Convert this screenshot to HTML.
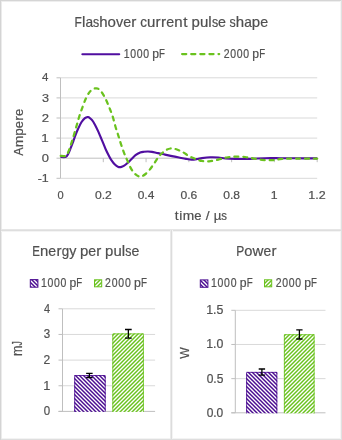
<!DOCTYPE html><html><head><meta charset="utf-8"><style>html,body{margin:0;padding:0;background:#fff;width:342px;height:440px;overflow:hidden}svg{display:block;will-change:transform}text{font-family:"Liberation Sans",sans-serif;font-kerning:none;stroke:#505050;stroke-width:0.2px}</style></head><body>
<svg width="342" height="440" viewBox="0 0 342 440">
<defs>
<pattern id="pp" width="4" height="4" patternUnits="userSpaceOnUse"><rect width="4" height="4" fill="#fff"/><path d="M-1,-1 L5,5 M-1,3 L1,5 M3,-1 L5,1" stroke="#4A0C90" stroke-width="1.45"/></pattern>
<pattern id="pg" width="4" height="4" patternUnits="userSpaceOnUse"><rect width="4" height="4" fill="#fff"/><path d="M-1,5 L5,-1 M-1,1 L1,-1 M3,5 L5,3" stroke="#6AC21E" stroke-width="1.45"/></pattern>
</defs>
<rect width="342" height="440" fill="#fff"/>
<rect x="0" y="1" width="342" height="1" fill="#EEEEEE"/>
<rect x="0" y="438" width="342" height="1" fill="#F3F3F3"/>
<rect x="1" y="0" width="1" height="440" fill="#EBEBEB"/>
<rect x="340" y="0" width="1" height="440" fill="#F5F5F5"/>
<rect x="0" y="231" width="342" height="1" fill="#F4F4F4"/>
<rect x="0" y="229" width="342" height="1" fill="#E6E6E6"/>
<rect x="0" y="230" width="342" height="1" fill="#DEDEDE"/>
<rect x="170" y="230" width="1" height="210" fill="#EAEAEA"/>
<rect x="172" y="230" width="1" height="210" fill="#F4F4F4"/>
<rect x="171" y="230" width="1" height="210" fill="#DCDCDC"/>
<rect x="0" y="0" width="342" height="1" fill="#D5D5D5"/>
<rect x="0" y="439" width="342" height="1" fill="#DEDEDE"/>
<rect x="0" y="0" width="1" height="440" fill="#D4D4D4"/>
<rect x="341" y="0" width="1" height="440" fill="#E0E0E0"/>
<line x1="60.5" y1="77.79999999999998" x2="317.2" y2="77.79999999999998" stroke="#D9D9D9" stroke-width="1"/>
<line x1="60.5" y1="97.89999999999998" x2="317.2" y2="97.89999999999998" stroke="#D9D9D9" stroke-width="1"/>
<line x1="60.5" y1="117.99999999999999" x2="317.2" y2="117.99999999999999" stroke="#D9D9D9" stroke-width="1"/>
<line x1="60.5" y1="138.1" x2="317.2" y2="138.1" stroke="#D9D9D9" stroke-width="1"/>
<line x1="60.5" y1="178.29999999999998" x2="317.2" y2="178.29999999999998" stroke="#D9D9D9" stroke-width="1"/>
<line x1="60.5" y1="158.2" x2="317.2" y2="158.2" stroke="#BFBFBF" stroke-width="1"/>
<line x1="60.5" y1="77.8" x2="60.5" y2="178.3" stroke="#BFBFBF" stroke-width="1"/>
<line x1="56.5" y1="77.79999999999998" x2="60.5" y2="77.79999999999998" stroke="#BFBFBF" stroke-width="1"/>
<line x1="56.5" y1="97.89999999999998" x2="60.5" y2="97.89999999999998" stroke="#BFBFBF" stroke-width="1"/>
<line x1="56.5" y1="117.99999999999999" x2="60.5" y2="117.99999999999999" stroke="#BFBFBF" stroke-width="1"/>
<line x1="56.5" y1="138.1" x2="60.5" y2="138.1" stroke="#BFBFBF" stroke-width="1"/>
<line x1="56.5" y1="158.2" x2="60.5" y2="158.2" stroke="#BFBFBF" stroke-width="1"/>
<line x1="56.5" y1="178.29999999999998" x2="60.5" y2="178.29999999999998" stroke="#BFBFBF" stroke-width="1"/>
<line x1="103.28333333333333" y1="158.2" x2="103.28333333333333" y2="162.2" stroke="#BFBFBF" stroke-width="1"/>
<line x1="146.06666666666666" y1="158.2" x2="146.06666666666666" y2="162.2" stroke="#BFBFBF" stroke-width="1"/>
<line x1="188.85" y1="158.2" x2="188.85" y2="162.2" stroke="#BFBFBF" stroke-width="1"/>
<line x1="231.63333333333333" y1="158.2" x2="231.63333333333333" y2="162.2" stroke="#BFBFBF" stroke-width="1"/>
<line x1="274.41666666666663" y1="158.2" x2="274.41666666666663" y2="162.2" stroke="#BFBFBF" stroke-width="1"/>
<line x1="317.2" y1="158.2" x2="317.2" y2="162.2" stroke="#BFBFBF" stroke-width="1"/>
<path d="M60.50,157.00 C61.33,157.00 64.42,157.20 65.50,157.00 C66.58,156.80 66.50,156.42 67.00,155.80 C67.50,155.18 67.85,154.70 68.50,153.30 C69.15,151.90 70.12,149.35 70.90,147.40 C71.68,145.45 72.43,143.65 73.20,141.60 C73.97,139.55 74.72,137.15 75.50,135.10 C76.28,133.05 76.92,131.43 77.90,129.30 C78.88,127.17 80.23,124.15 81.40,122.30 C82.57,120.45 83.83,119.08 84.90,118.20 C85.97,117.32 87.12,117.13 87.80,117.00 C88.48,116.87 88.28,116.88 89.00,117.40 C89.72,117.92 91.07,118.80 92.10,120.10 C93.13,121.40 94.18,123.32 95.20,125.20 C96.22,127.08 97.27,129.35 98.20,131.40 C99.13,133.45 99.93,135.45 100.80,137.50 C101.67,139.55 102.55,141.65 103.40,143.70 C104.25,145.75 104.97,147.75 105.90,149.80 C106.83,151.85 108.12,154.33 109.00,156.00 C109.88,157.67 110.22,158.37 111.20,159.80 C112.18,161.23 113.70,163.42 114.90,164.60 C116.10,165.78 117.43,166.48 118.40,166.90 C119.37,167.32 119.73,167.30 120.70,167.10 C121.67,166.90 123.03,166.42 124.20,165.70 C125.37,164.98 126.52,163.87 127.70,162.80 C128.88,161.73 130.00,160.57 131.30,159.30 C132.60,158.03 134.02,156.32 135.50,155.20 C136.98,154.08 138.78,153.17 140.20,152.60 C141.62,152.03 142.70,151.98 144.00,151.80 C145.30,151.62 146.67,151.48 148.00,151.50 C149.33,151.52 150.67,151.70 152.00,151.90 C153.33,152.10 154.67,152.42 156.00,152.70 C157.33,152.98 158.50,153.28 160.00,153.60 C161.50,153.92 163.00,154.18 165.00,154.60 C167.00,155.02 169.67,155.62 172.00,156.10 C174.33,156.58 176.67,157.03 179.00,157.50 C181.33,157.97 183.90,158.55 186.00,158.90 C188.10,159.25 189.70,159.58 191.60,159.60 C193.50,159.62 195.67,159.25 197.40,159.00 C199.13,158.75 199.87,158.38 202.00,158.10 C204.13,157.82 207.47,157.40 210.20,157.30 C212.93,157.20 215.87,157.30 218.40,157.50 C220.93,157.70 222.63,158.27 225.40,158.50 C228.17,158.73 230.90,158.83 235.00,158.90 C239.10,158.97 245.00,159.02 250.00,158.90 C255.00,158.78 260.00,158.32 265.00,158.20 C270.00,158.08 275.00,158.18 280.00,158.20 C285.00,158.22 288.80,158.28 295.00,158.30 C301.20,158.32 313.50,158.30 317.20,158.30" fill="none" stroke="#500EA0" stroke-width="2.15" stroke-linejoin="round"/>
<path d="M60.50,155.80 C61.42,155.80 64.57,156.80 66.00,155.80 C67.43,154.80 68.00,152.57 69.10,149.80 C70.20,147.03 71.43,142.92 72.60,139.20 C73.77,135.48 75.02,131.20 76.10,127.50 C77.18,123.80 78.00,120.48 79.10,117.00 C80.20,113.52 81.52,109.80 82.70,106.60 C83.88,103.40 85.03,100.25 86.20,97.80 C87.37,95.35 88.53,93.37 89.70,91.90 C90.87,90.43 92.13,89.58 93.20,89.00 C94.27,88.42 95.12,88.35 96.10,88.40 C97.08,88.45 97.93,88.32 99.10,89.30 C100.27,90.28 101.83,92.30 103.10,94.30 C104.37,96.30 105.62,98.97 106.70,101.30 C107.78,103.63 108.62,105.82 109.60,108.30 C110.58,110.78 111.62,113.13 112.60,116.20 C113.58,119.27 114.52,123.38 115.50,126.70 C116.48,130.02 117.52,132.98 118.50,136.10 C119.48,139.22 120.33,142.25 121.40,145.40 C122.47,148.55 123.83,152.32 124.90,155.00 C125.97,157.68 126.82,159.32 127.80,161.50 C128.78,163.68 129.70,166.13 130.80,168.10 C131.90,170.07 133.12,171.93 134.40,173.30 C135.68,174.67 137.33,175.80 138.50,176.30 C139.67,176.80 140.33,176.60 141.40,176.30 C142.47,176.00 143.53,175.58 144.90,174.50 C146.27,173.42 148.05,171.65 149.60,169.80 C151.15,167.95 152.65,165.63 154.20,163.40 C155.75,161.17 157.35,158.30 158.90,156.40 C160.45,154.50 162.15,153.13 163.50,152.00 C164.85,150.87 165.83,150.18 167.00,149.60 C168.17,149.02 169.23,148.63 170.50,148.50 C171.77,148.37 173.23,148.52 174.60,148.80 C175.97,149.08 177.23,149.58 178.70,150.20 C180.17,150.82 181.83,151.62 183.40,152.50 C184.97,153.38 186.55,154.62 188.10,155.50 C189.65,156.38 191.15,157.12 192.70,157.80 C194.25,158.48 195.85,159.07 197.40,159.60 C198.95,160.13 200.07,160.70 202.00,161.00 C203.93,161.30 206.27,161.63 209.00,161.40 C211.73,161.17 215.47,160.25 218.40,159.60 C221.33,158.95 223.83,158.00 226.60,157.50 C229.37,157.00 231.93,156.68 235.00,156.60 C238.07,156.52 242.00,156.72 245.00,157.00 C248.00,157.28 250.17,157.82 253.00,158.30 C255.83,158.78 258.83,159.58 262.00,159.90 C265.17,160.22 269.00,160.32 272.00,160.20 C275.00,160.08 277.00,159.47 280.00,159.20 C283.00,158.93 283.80,158.72 290.00,158.60 C296.20,158.48 312.67,158.52 317.20,158.50" fill="none" stroke="#6AC21E" stroke-width="2.25" stroke-dasharray="3.95 4.91" stroke-dashoffset="-0.36" stroke-linecap="round" stroke-linejoin="round"/>
<text transform="translate(74.46,26.60) scale(0.822,1)" font-size="14.54" fill="#505050">F</text><text transform="translate(81.88,26.60) scale(1.050,1)" font-size="14.54" fill="#505050">l</text><text transform="translate(85.40,26.60) scale(0.942,1)" font-size="14.54" fill="#505050">a</text><text transform="translate(93.01,26.60) scale(0.855,1)" font-size="14.54" fill="#505050">s</text><text transform="translate(99.23,26.60) scale(1.033,1)" font-size="14.54" fill="#505050">h</text><text transform="translate(107.57,26.60) scale(1.036,1)" font-size="14.54" fill="#505050">o</text><text transform="translate(115.95,26.60) scale(0.989,1)" font-size="14.54" fill="#505050">v</text><text transform="translate(123.14,26.60) scale(0.979,1)" font-size="14.54" fill="#505050">e</text><text transform="translate(131.29,26.60) scale(1.050,1)" font-size="14.54" fill="#505050">r</text><text transform="translate(140.20,26.60) scale(0.925,1)" font-size="14.54" fill="#505050">c</text><text transform="translate(146.92,26.60) scale(1.033,1)" font-size="14.54" fill="#505050">u</text><text transform="translate(155.50,26.60) scale(1.050,1)" font-size="14.54" fill="#505050">r</text><text transform="translate(161.05,26.60) scale(1.050,1)" font-size="14.54" fill="#505050">r</text><text transform="translate(166.36,26.60) scale(0.979,1)" font-size="14.54" fill="#505050">e</text><text transform="translate(174.28,26.60) scale(1.033,1)" font-size="14.54" fill="#505050">n</text><text transform="translate(183.17,26.60) scale(1.050,1)" font-size="14.54" fill="#505050">t</text><text transform="translate(191.55,26.60) scale(1.033,1)" font-size="14.54" fill="#505050">p</text><text transform="translate(199.89,26.60) scale(1.033,1)" font-size="14.54" fill="#505050">u</text><text transform="translate(208.37,26.60) scale(1.050,1)" font-size="14.54" fill="#505050">l</text><text transform="translate(211.88,26.60) scale(0.855,1)" font-size="14.54" fill="#505050">s</text><text transform="translate(218.10,26.60) scale(0.979,1)" font-size="14.54" fill="#505050">e</text><text transform="translate(229.61,26.60) scale(0.855,1)" font-size="14.54" fill="#505050">s</text><text transform="translate(235.82,26.60) scale(1.033,1)" font-size="14.54" fill="#505050">h</text><text transform="translate(244.17,26.60) scale(0.942,1)" font-size="14.54" fill="#505050">a</text><text transform="translate(251.78,26.60) scale(1.033,1)" font-size="14.54" fill="#505050">p</text><text transform="translate(260.13,26.60) scale(0.979,1)" font-size="14.54" fill="#505050">e</text>
<line x1="82.4" y1="54.2" x2="119.2" y2="54.2" stroke="#500EA0" stroke-width="2.15" stroke-linecap="round"/>
<line x1="182.1" y1="54.1" x2="219.2" y2="54.1" stroke="#6AC21E" stroke-width="2.25" stroke-dasharray="4.15 4.95" stroke-linecap="round"/>
<text transform="translate(123.74,57.80) scale(0.860,1)" font-size="12.21" fill="#505050">1</text><text transform="translate(130.25,57.80) scale(0.860,1)" font-size="12.21" fill="#505050">0</text><text transform="translate(136.76,57.80) scale(0.860,1)" font-size="12.21" fill="#505050">0</text><text transform="translate(143.26,57.80) scale(0.860,1)" font-size="12.21" fill="#505050">0</text><text transform="translate(152.34,57.80) scale(0.993,1)" font-size="12.21" fill="#505050">p</text><text transform="translate(159.08,57.80) scale(0.790,1)" font-size="12.21" fill="#505050">F</text>
<text transform="translate(223.63,57.80) scale(0.860,1)" font-size="12.21" fill="#505050">2</text><text transform="translate(230.17,57.80) scale(0.860,1)" font-size="12.21" fill="#505050">0</text><text transform="translate(236.71,57.80) scale(0.860,1)" font-size="12.21" fill="#505050">0</text><text transform="translate(243.25,57.80) scale(0.860,1)" font-size="12.21" fill="#505050">0</text><text transform="translate(252.36,57.80) scale(0.997,1)" font-size="12.21" fill="#505050">p</text><text transform="translate(259.13,57.80) scale(0.794,1)" font-size="12.21" fill="#505050">F</text>
<text x="42.04" y="81.10" font-size="11.70" fill="#505050" textLength="6.40" lengthAdjust="spacingAndGlyphs">4</text>
<text x="42.02" y="101.90" font-size="11.70" fill="#505050" textLength="7.04" lengthAdjust="spacingAndGlyphs">3</text>
<text x="41.74" y="122.00" font-size="11.70" fill="#505050" textLength="7.32" lengthAdjust="spacingAndGlyphs">2</text>
<text x="41.38" y="142.10" font-size="11.70" fill="#505050" textLength="7.48" lengthAdjust="spacingAndGlyphs">1</text>
<text x="41.69" y="162.20" font-size="11.70" fill="#505050" textLength="7.21" lengthAdjust="spacingAndGlyphs">0</text>
<text x="37.65" y="182.30" font-size="11.70" fill="#505050" textLength="11.06" lengthAdjust="spacingAndGlyphs">-1</text>
<text x="57.42" y="199.40" font-size="11.30" fill="#505050" textLength="6.17" lengthAdjust="spacingAndGlyphs">0</text>
<text x="94.91" y="199.40" font-size="11.30" fill="#505050" textLength="16.89" lengthAdjust="spacingAndGlyphs">0.2</text>
<text x="137.70" y="199.40" font-size="11.30" fill="#505050" textLength="16.62" lengthAdjust="spacingAndGlyphs">0.4</text>
<text x="180.48" y="199.40" font-size="11.30" fill="#505050" textLength="16.80" lengthAdjust="spacingAndGlyphs">0.6</text>
<text x="223.26" y="199.40" font-size="11.30" fill="#505050" textLength="16.80" lengthAdjust="spacingAndGlyphs">0.8</text>
<text x="270.83" y="199.40" font-size="11.30" fill="#505050" textLength="6.84" lengthAdjust="spacingAndGlyphs">1</text>
<text x="308.35" y="199.40" font-size="11.30" fill="#505050" textLength="17.38" lengthAdjust="spacingAndGlyphs">1.2</text>
<text transform="translate(174.87,219.70) scale(1.050,1)" font-size="13.08" fill="#505050">t</text><text transform="translate(179.36,219.70) scale(1.050,1)" font-size="13.08" fill="#505050">i</text><text transform="translate(182.66,219.70) scale(1.050,1)" font-size="13.08" fill="#505050">m</text><text transform="translate(194.20,219.70) scale(0.998,1)" font-size="13.08" fill="#505050">e</text><text transform="translate(205.66,219.70) scale(1.050,1)" font-size="13.08" fill="#505050">/</text><text transform="translate(213.67,219.70) scale(1.015,1)" font-size="13.08" fill="#505050">µ</text><text transform="translate(221.33,219.70) scale(0.871,1)" font-size="13.08" fill="#505050">s</text>
<g transform="translate(22.50,155.72) rotate(-90)"><text transform="translate(0.00,0.00) scale(0.929,1)" font-size="13.52" fill="#505050">A</text><text transform="translate(8.37,0.00) scale(1.026,1)" font-size="13.52" fill="#505050">m</text><text transform="translate(19.93,0.00) scale(1.010,1)" font-size="13.52" fill="#505050">p</text><text transform="translate(27.52,0.00) scale(0.958,1)" font-size="13.52" fill="#505050">e</text><text transform="translate(34.88,0.00) scale(1.050,1)" font-size="13.52" fill="#505050">r</text><text transform="translate(39.77,0.00) scale(0.958,1)" font-size="13.52" fill="#505050">e</text></g>
<line x1="62.5" y1="385.75" x2="155.1" y2="385.75" stroke="#D9D9D9" stroke-width="1"/>
<line x1="62.5" y1="360.09999999999997" x2="155.1" y2="360.09999999999997" stroke="#D9D9D9" stroke-width="1"/>
<line x1="62.5" y1="334.45" x2="155.1" y2="334.45" stroke="#D9D9D9" stroke-width="1"/>
<line x1="62.5" y1="308.79999999999995" x2="155.1" y2="308.79999999999995" stroke="#D9D9D9" stroke-width="1"/>
<line x1="58.5" y1="411.4" x2="155.1" y2="411.4" stroke="#BFBFBF" stroke-width="1"/>
<line x1="62.5" y1="308.79999999999995" x2="62.5" y2="411.4" stroke="#BFBFBF" stroke-width="1"/>
<line x1="58.5" y1="411.4" x2="62.5" y2="411.4" stroke="#BFBFBF" stroke-width="1"/>
<line x1="58.5" y1="385.75" x2="62.5" y2="385.75" stroke="#BFBFBF" stroke-width="1"/>
<line x1="58.5" y1="360.09999999999997" x2="62.5" y2="360.09999999999997" stroke="#BFBFBF" stroke-width="1"/>
<line x1="58.5" y1="334.45" x2="62.5" y2="334.45" stroke="#BFBFBF" stroke-width="1"/>
<line x1="58.5" y1="308.79999999999995" x2="62.5" y2="308.79999999999995" stroke="#BFBFBF" stroke-width="1"/>
<rect x="74.20" y="375.00" width="31.50" height="36.90" fill="url(#pp)"/>
<path d="M74.70,411.90 V375.50 H105.20 V411.90" fill="none" stroke="#4A0C90" stroke-width="0.8"/>
<rect x="112.30" y="333.40" width="31.60" height="78.50" fill="url(#pg)"/>
<path d="M112.80,411.90 V333.90 H143.40 V411.90" fill="none" stroke="#6AC21E" stroke-width="0.8"/>
<path d="M86.15,373.40 H92.65 M89.40,373.40 V377.50 M86.15,377.50 H92.65" stroke="#000" stroke-width="1.3" fill="none"/>
<path d="M125.00,329.50 H131.70 M128.35,329.50 V338.10 M125.00,338.10 H131.70" stroke="#000" stroke-width="1.3" fill="none"/>
<text transform="translate(32.36,256.10) scale(0.803,1)" font-size="14.39" fill="#505050">E</text><text transform="translate(40.06,256.10) scale(1.036,1)" font-size="14.39" fill="#505050">n</text><text transform="translate(48.35,256.10) scale(0.982,1)" font-size="14.39" fill="#505050">e</text><text transform="translate(56.46,256.10) scale(1.050,1)" font-size="14.39" fill="#505050">r</text><text transform="translate(61.73,256.10) scale(0.929,1)" font-size="14.39" fill="#505050">g</text><text transform="translate(69.16,256.10) scale(0.994,1)" font-size="14.39" fill="#505050">y</text><text transform="translate(79.88,256.10) scale(1.036,1)" font-size="14.39" fill="#505050">p</text><text transform="translate(88.17,256.10) scale(0.982,1)" font-size="14.39" fill="#505050">e</text><text transform="translate(96.27,256.10) scale(1.050,1)" font-size="14.39" fill="#505050">r</text><text transform="translate(105.11,256.10) scale(1.036,1)" font-size="14.39" fill="#505050">p</text><text transform="translate(113.40,256.10) scale(1.036,1)" font-size="14.39" fill="#505050">u</text><text transform="translate(121.82,256.10) scale(1.050,1)" font-size="14.39" fill="#505050">l</text><text transform="translate(125.31,256.10) scale(0.858,1)" font-size="14.39" fill="#505050">s</text><text transform="translate(131.48,256.10) scale(0.982,1)" font-size="14.39" fill="#505050">e</text>
<text x="43.75" y="415.35" font-size="12.00" fill="#505050" textLength="6.40" lengthAdjust="spacingAndGlyphs">0</text>
<text x="43.23" y="389.70" font-size="12.00" fill="#505050" textLength="7.09" lengthAdjust="spacingAndGlyphs">1</text>
<text x="43.59" y="364.05" font-size="12.00" fill="#505050" textLength="6.71" lengthAdjust="spacingAndGlyphs">2</text>
<text x="43.76" y="338.40" font-size="12.00" fill="#505050" textLength="6.45" lengthAdjust="spacingAndGlyphs">3</text>
<text x="43.95" y="312.75" font-size="12.00" fill="#505050" textLength="6.07" lengthAdjust="spacingAndGlyphs">4</text>
<g transform="translate(21.70,355.01) rotate(-90)"><text transform="translate(-1.05,0.00) scale(0.914,1)" font-size="13.81" fill="#505050">m</text><text transform="translate(9.46,0.00) scale(0.608,1)" font-size="13.81" fill="#505050">J</text></g>
<rect x="30.3" y="279.6" width="7.6" height="7.6" fill="url(#pp)" stroke="#4A0C90" stroke-width="1"/>
<rect x="94.5" y="279.8" width="7.2" height="7.0" fill="url(#pg)" stroke="#6AC21E" stroke-width="1"/>
<text transform="translate(40.91,287.40) scale(0.860,1)" font-size="12.21" fill="#505050">1</text><text transform="translate(47.44,287.40) scale(0.860,1)" font-size="12.21" fill="#505050">0</text><text transform="translate(53.98,287.40) scale(0.860,1)" font-size="12.21" fill="#505050">0</text><text transform="translate(60.51,287.40) scale(0.860,1)" font-size="12.21" fill="#505050">0</text><text transform="translate(69.61,287.40) scale(0.996,1)" font-size="12.21" fill="#505050">p</text><text transform="translate(76.37,287.40) scale(0.793,1)" font-size="12.21" fill="#505050">F</text>
<text transform="translate(105.04,287.40) scale(0.860,1)" font-size="12.21" fill="#505050">2</text><text transform="translate(111.66,287.40) scale(0.860,1)" font-size="12.21" fill="#505050">0</text><text transform="translate(118.28,287.40) scale(0.860,1)" font-size="12.21" fill="#505050">0</text><text transform="translate(124.90,287.40) scale(0.860,1)" font-size="12.21" fill="#505050">0</text><text transform="translate(134.07,287.40) scale(1.009,1)" font-size="12.21" fill="#505050">p</text><text transform="translate(140.93,287.40) scale(0.803,1)" font-size="12.21" fill="#505050">F</text>
<line x1="235.3" y1="378.635" x2="325.5" y2="378.635" stroke="#D9D9D9" stroke-width="1"/>
<line x1="235.3" y1="344.47" x2="325.5" y2="344.47" stroke="#D9D9D9" stroke-width="1"/>
<line x1="235.3" y1="310.305" x2="325.5" y2="310.305" stroke="#D9D9D9" stroke-width="1"/>
<line x1="231.3" y1="412.8" x2="325.5" y2="412.8" stroke="#BFBFBF" stroke-width="1"/>
<line x1="235.3" y1="310.305" x2="235.3" y2="412.8" stroke="#BFBFBF" stroke-width="1"/>
<line x1="231.3" y1="412.8" x2="235.3" y2="412.8" stroke="#BFBFBF" stroke-width="1"/>
<line x1="231.3" y1="378.635" x2="235.3" y2="378.635" stroke="#BFBFBF" stroke-width="1"/>
<line x1="231.3" y1="344.47" x2="235.3" y2="344.47" stroke="#BFBFBF" stroke-width="1"/>
<line x1="231.3" y1="310.305" x2="235.3" y2="310.305" stroke="#BFBFBF" stroke-width="1"/>
<rect x="246.10" y="371.90" width="31.20" height="41.40" fill="url(#pp)"/>
<path d="M246.60,413.30 V372.40 H276.80 V413.30" fill="none" stroke="#4A0C90" stroke-width="0.8"/>
<rect x="283.90" y="334.20" width="30.70" height="79.10" fill="url(#pg)"/>
<path d="M284.40,413.30 V334.70 H314.10 V413.30" fill="none" stroke="#6AC21E" stroke-width="0.8"/>
<path d="M258.70,369.00 H265.10 M261.90,369.00 V375.10 M258.70,375.10 H265.10" stroke="#000" stroke-width="1.3" fill="none"/>
<path d="M296.25,329.90 H302.55 M299.40,329.90 V339.00 M296.25,339.00 H302.55" stroke="#000" stroke-width="1.3" fill="none"/>
<text transform="translate(236.32,255.90) scale(0.834,1)" font-size="14.39" fill="#505050">P</text><text transform="translate(244.32,255.90) scale(1.020,1)" font-size="14.39" fill="#505050">o</text><text transform="translate(252.56,255.90) scale(1.050,1)" font-size="14.39" fill="#505050">w</text><text transform="translate(263.56,255.90) scale(0.964,1)" font-size="14.39" fill="#505050">e</text><text transform="translate(271.46,255.90) scale(1.050,1)" font-size="14.39" fill="#505050">r</text>
<text x="206.63" y="416.70" font-size="12.10" fill="#505050" textLength="16.63" lengthAdjust="spacingAndGlyphs">0.0</text>
<text x="206.63" y="382.53" font-size="12.10" fill="#505050" textLength="16.67" lengthAdjust="spacingAndGlyphs">0.5</text>
<text x="206.16" y="348.37" font-size="12.10" fill="#505050" textLength="17.12" lengthAdjust="spacingAndGlyphs">1.0</text>
<text x="206.16" y="314.20" font-size="12.10" fill="#505050" textLength="17.16" lengthAdjust="spacingAndGlyphs">1.5</text>
<g transform="translate(188.90,358.63) rotate(-90)"><text transform="translate(0.00,0.00) scale(0.919,1)" font-size="13.37" fill="#505050">W</text></g>
<rect x="200.3" y="279.9" width="7.6" height="7.4" fill="url(#pp)" stroke="#4A0C90" stroke-width="1"/>
<rect x="264.5" y="279.8" width="7.2" height="7.0" fill="url(#pg)" stroke="#6AC21E" stroke-width="1"/>
<text transform="translate(210.97,287.40) scale(0.860,1)" font-size="12.21" fill="#505050">1</text><text transform="translate(217.54,287.40) scale(0.860,1)" font-size="12.21" fill="#505050">0</text><text transform="translate(224.12,287.40) scale(0.860,1)" font-size="12.21" fill="#505050">0</text><text transform="translate(230.69,287.40) scale(0.860,1)" font-size="12.21" fill="#505050">0</text><text transform="translate(239.83,287.40) scale(1.002,1)" font-size="12.21" fill="#505050">p</text><text transform="translate(246.64,287.40) scale(0.798,1)" font-size="12.21" fill="#505050">F</text>
<text transform="translate(275.67,287.40) scale(0.860,1)" font-size="12.21" fill="#505050">2</text><text transform="translate(282.18,287.40) scale(0.860,1)" font-size="12.21" fill="#505050">0</text><text transform="translate(288.69,287.40) scale(0.860,1)" font-size="12.21" fill="#505050">0</text><text transform="translate(295.20,287.40) scale(0.860,1)" font-size="12.21" fill="#505050">0</text><text transform="translate(304.28,287.40) scale(0.993,1)" font-size="12.21" fill="#505050">p</text><text transform="translate(311.02,287.40) scale(0.790,1)" font-size="12.21" fill="#505050">F</text>
</svg></body></html>
